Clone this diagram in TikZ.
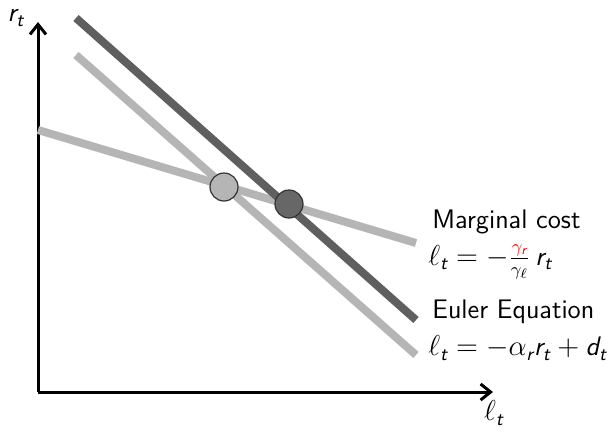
\documentclass[tikz,border=0pt]{standalone}
\usepackage{amsmath}
\usetikzlibrary{arrows.meta}
\newcommand{\sv}[1]{\text{\sffamily\itshape #1}}
\definecolor{darkline}{HTML}{5F5F5F}
\definecolor{lightline}{HTML}{B5B5B5}
\begin{document}
\begin{tikzpicture}[x=0.5pt,y=-0.5pt,font=\sffamily\fontsize{13.4}{16}\selectfont,
  axis/.style={line width=1.5pt,-{Straight Barb[length=5pt,width=8pt,line width=1.5pt]}},
  curve/.style={line width=4pt},
  dot/.style={circle,draw=black!80,line width=0.6pt,minimum size=14pt,inner sep=0pt},
  lbl/.style={anchor=west,inner sep=0pt}]
\useasboundingbox (0,0) rectangle (611,434);
\coordinate (O) at (38,392);
\coordinate (Ytop) at (38,22);
\coordinate (Xend) at (493,392);
\draw[axis] (O) -- (Ytop);
\draw[axis] (O) -- (Xend);
\node (ry) at (16,18) {$\sv{r}_{\sv{t}}$};
\node (lx) at (494,413) {$\ell_{\sv{t}}$};
% lines
\coordinate (f1) at (38,130);
\coordinate (f2) at (416,243);
\coordinate (s1) at (76,55);
\coordinate (s2) at (416,355);
\coordinate (d1) at (76,18);
\coordinate (d2) at (416,320);
\draw[curve,lightline] (f1) -- (f2);
\draw[curve,lightline] (s1) -- (s2);
\draw[curve,darkline] (d1) -- (d2);
\node[dot,fill=lightline] (c1) at (224,187) {};
\node[dot,fill=darkline!95] (c2) at (289,204) {};
% labels
\node[lbl] (mc) at (432,222) {Marginal cost};
\node[lbl] (mce) at (428,262) {$\ell_{\sv{t}} = -\frac{\textcolor{red}{\gamma_{\sv{r}}}}{\gamma_\ell}\, \sv{r}_{\sv{t}}$};
\node[lbl] (ee) at (432,312) {Euler Equation};
\node[lbl] (eee) at (428,348) {$\ell_{\sv{t}} = -\alpha_{\sv{r}} \sv{r}_{\sv{t}} + \sv{d}_{\sv{t}}$};
\end{tikzpicture}
\end{document}
